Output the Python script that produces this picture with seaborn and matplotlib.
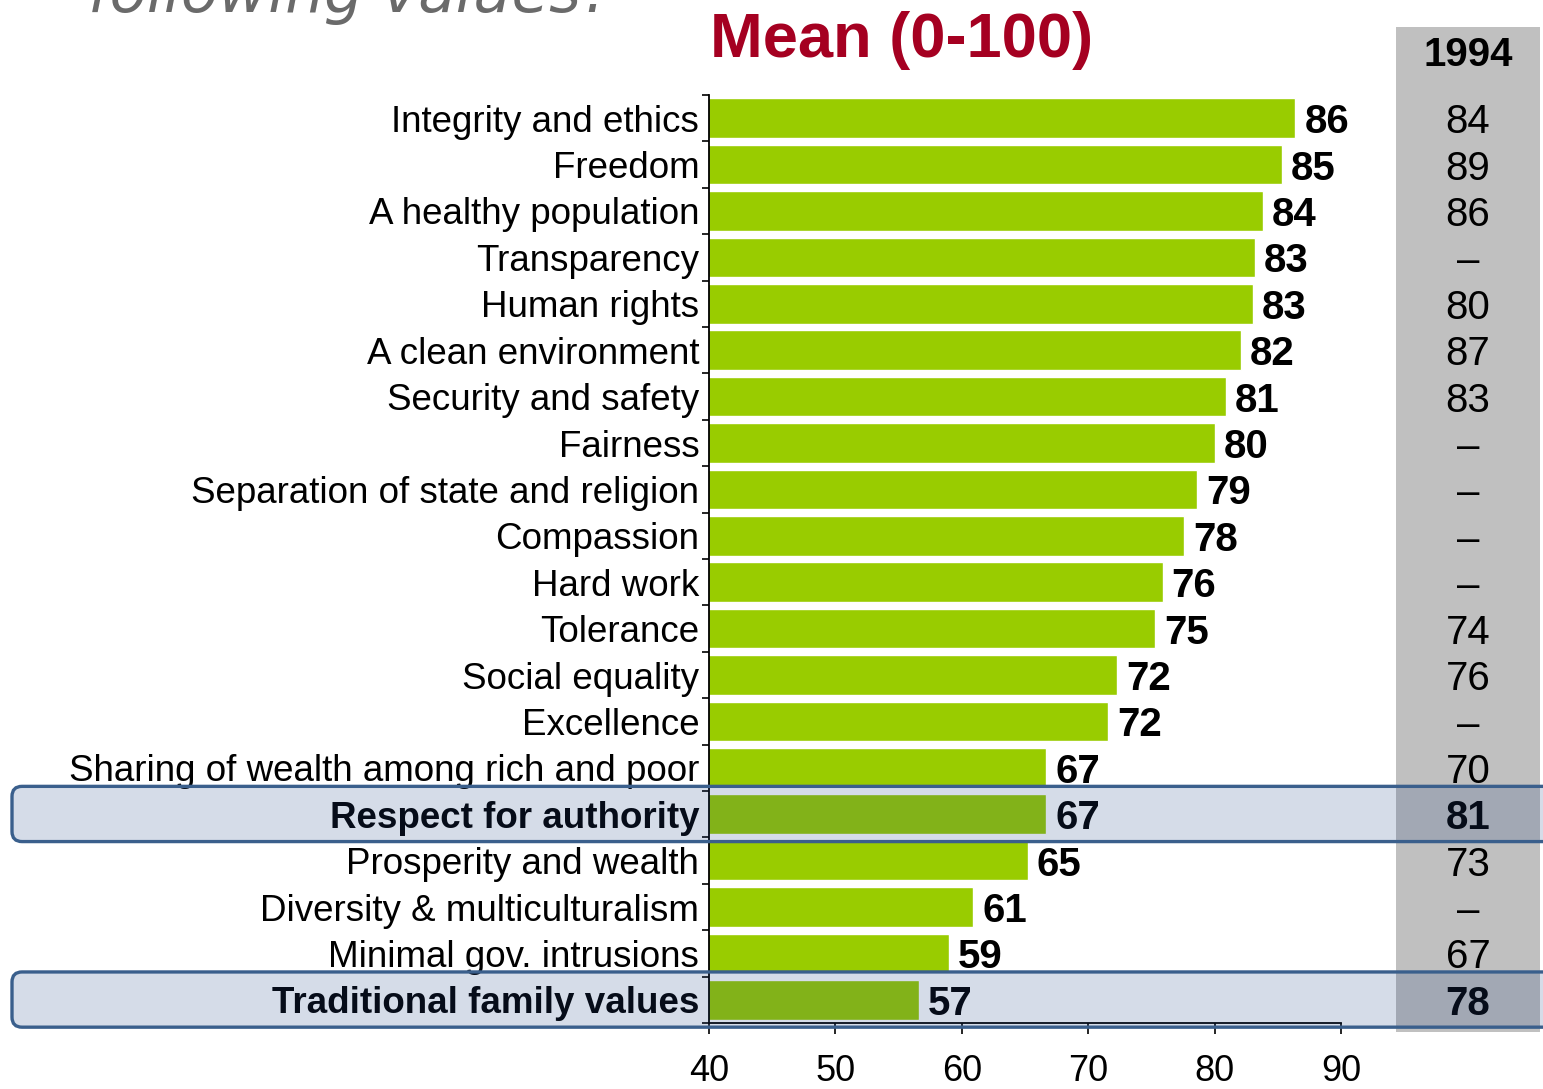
import matplotlib
matplotlib.use("Agg")
import matplotlib.pyplot as plt
import numpy as np
import pandas as pd
import seaborn as sns
from matplotlib.patches import FancyBboxPatch, Rectangle

# values
values = [
  'Integrity and ethics', 'Freedom', 'A healthy population', 'Transparency',
  'Human rights', 'A clean environment', 'Security and safety', 'Fairness',
  'Separation of state and religion', 'Compassion', 'Hard work', 'Tolerance',
  'Social equality', 'Excellence', 'Sharing of wealth among rich and poor',
  'Respect for authority', 'Prosperity and wealth', 'Diversity & multiculturalism',
  'Minimal gov. intrusions', 'Traditional family values'
]
means = [86.4, 85.3, 83.8, 83.2, 83.0, 82.1, 80.9, 80.0, 78.6, 77.6,
         75.9, 75.3, 72.3, 71.6, 66.7, 66.7, 65.2, 60.9, 59.0, 56.6]
y1994 = ['84', '89', '86', '–', '80', '87', '83', '–', '–', '–',
         '–', '74', '76', '–', '70', '81', '73', '–', '67', '78']
highlight = ['Respect for authority', 'Traditional family values']

W, H = 1543, 1089
sns.set_theme(style='white')
plt.rcParams['font.family'] = ['Liberation Sans', 'DejaVu Sans']
for k in ['text.color', 'axes.labelcolor', 'xtick.color', 'ytick.color']:
  plt.rcParams[k] = 'black'

fig = plt.figure(figsize=(W / 100, H / 100), dpi=100)
ax = fig.add_axes([709 / W, 1 - 1023 / H, (1341 - 709) / W, (1023 - 95) / H])
ax.patch.set_alpha(0)

df = pd.DataFrame({'value': values, 'mean': means})
pal = {v: '#99CC00' for v in values}
sns.barplot(data=df, y='value', x='mean', hue='value', palette=pal, legend=False,
            width=0.85, saturation=1, ax=ax)

n = len(values)
ax.set_xlim(40, 90)
ax.set_ylim(n - 0.5, -0.5)
ax.set_xticks(np.arange(40, 91, 10))
ax.set_xlabel('')
ax.set_ylabel('')
ax.tick_params(axis='x', direction='out', length=8, width=1.2, color='black',
               labelsize=26, pad=14, bottom=True)
ax.set_yticks(range(n))
ax.set_yticklabels(values)
ax.tick_params(axis='y', length=0, labelsize=26.5, pad=7)
ax.set_yticks(np.arange(-0.5, n), minor=True)
ax.tick_params(axis='y', which='minor', direction='out', length=5, width=1.2,
               color='black', left=True)
for lab in ax.get_yticklabels():
  if lab.get_text() in highlight:
    lab.set_fontweight('bold')
sns.despine(ax=ax)
for s in ['left', 'bottom']:
  ax.spines[s].set_color('black')
  ax.spines[s].set_linewidth(1.3)

# value labels
for i, m in enumerate(means):
  ax.text(m + 0.7, i, f'{round(m)}', va='center_baseline', ha='left',
          fontsize=29, fontweight='bold', color='black')

# 1994 column (grey band behind the axes)
fig.add_artist(Rectangle((1396 / W, 1 - 1032 / H), 144 / W, 1005 / H,
                         transform=fig.transFigure, facecolor='#C0C0C0',
                         edgecolor='none', zorder=-1))
fig.text(1468 / W, 1 - 55 / H, '1994', ha='center', va='center',
         fontsize=29, fontweight='bold', color='black', zorder=5)
fig.canvas.draw()
for i, (v, t) in enumerate(zip(values, y1994)):
  _, yd = ax.transData.transform((40, i))
  fig.text(1468 / W, yd / H, t, ha='center', va='center_baseline', fontsize=29,
           fontweight='bold' if v in highlight else 'normal', color='black',
           zorder=5)

# titles
fig.text(710 / W, 1 - 40 / H, 'Mean (0-100)', ha='left', va='center',
         fontsize=45.5, fontweight='bold', color='#A50021')
fig.text(88 / W, 1 - 12 / H, 'following values?', ha='left', va='baseline',
         fontsize=44, style='italic', color='#6A6A6A', family='DejaVu Sans')

# highlight boxes
for v in highlight:
  i = values.index(v)
  _, ytop = ax.transData.transform((40, i - 0.6))
  _, ybot = ax.transData.transform((40, i + 0.59))
  box = FancyBboxPatch((12 / 100, ybot / 100), 16.0, (ytop - ybot) / 100,
                       boxstyle='round,pad=0,rounding_size=0.1',
                       transform=fig.dpi_scale_trans,
                       facecolor=(0.13, 0.27, 0.52, 0.19), edgecolor='#3A5F8C',
                       linewidth=2.4, zorder=10)
  fig.add_artist(box)

fig.savefig('out.png', dpi=100)
